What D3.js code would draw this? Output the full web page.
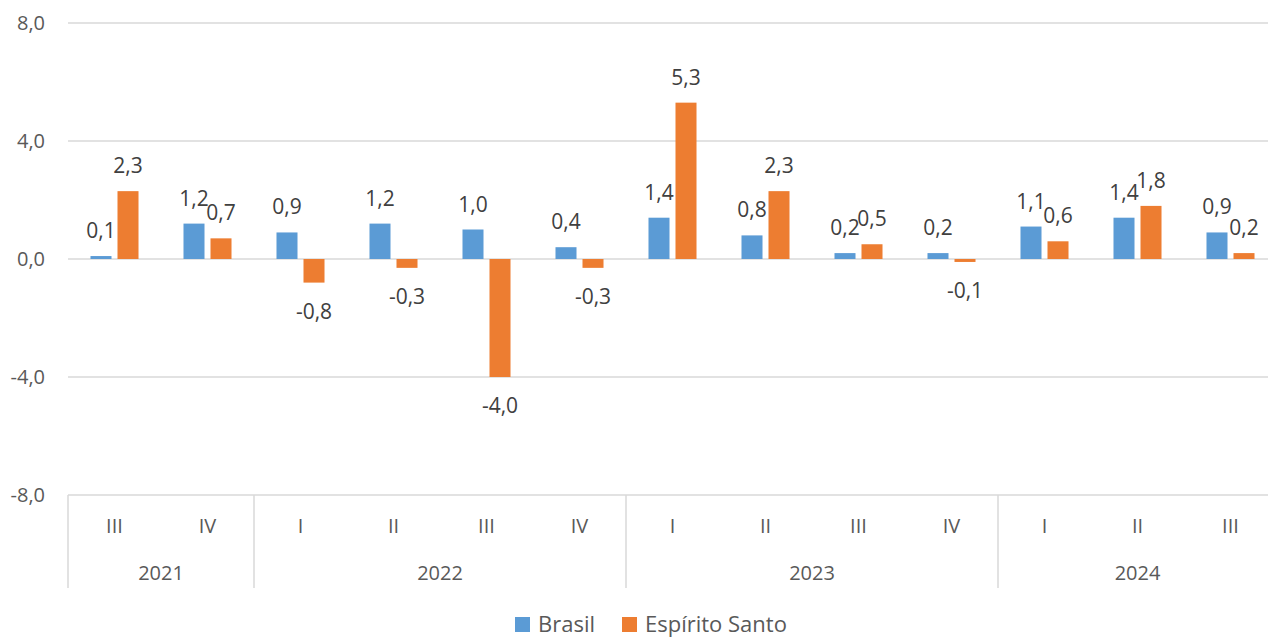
<!DOCTYPE html>
<html>
<head>
<meta charset="utf-8">
<script src="https://cdn.jsdelivr.net/npm/d3@7"></script>
<style>
  body { margin: 0; background: #fff; }
  text { font-family: "Open Sans", sans-serif; }
</style>
</head>
<body>
<div id="chart"></div>
<script>
// quarters and years along the bottom
var quarters = ["III", "IV", "I", "II", "III", "IV", "I", "II", "III", "IV", "I", "II", "III"];
var years = ["2021", "2022", "2023", "2024"];
var yearSpans = [2, 4, 4, 3];

var series = ["Brasil", "Espírito Santo"];
var brasil = [0.1, 1.2, 0.9, 1.2, 1.0, 0.4, 1.4, 0.8, 0.2, 0.2, 1.1, 1.4, 0.9];
var espiritoSanto = [2.3, 0.7, -0.8, -0.3, -4.0, -0.3, 5.3, 2.3, 0.5, -0.1, 0.6, 1.8, 0.2];
var yTicks = [-8, -4, 0, 4, 8];

var colors = ["#5b9bd5", "#ed7d31"];
var W = 1268, H = 637;
// note: "top" is taken by window.top, so plot edges get their own names
var plotLeft = 68, plotRight = 1277, plotTop = 23, plotBottom = 495;

var fmt = function(v) { return d3.format(".1f")(v).replace(".", ",").replace("−", "-"); };

var svg = d3.select("#chart").append("svg")
    .attr("width", W)
    .attr("height", H);

var idx = d3.range(quarters.length);
var x0 = d3.scaleBand().domain(idx).range([plotLeft, plotRight]);
var x1 = d3.scaleBand().domain([0, 1]).range([0, x0.bandwidth()])
    .paddingInner(0.222).paddingOuter(0.833);
var y = d3.scaleLinear().domain([-8, 8]).range([plotBottom, plotTop]);

// gridlines
svg.append("g").selectAll("line")
    .data(yTicks)
    .enter().append("line")
    .attr("x1", plotLeft)
    .attr("x2", 1280)
    .attr("y1", function(d) { return y(d); })
    .attr("y2", function(d) { return y(d); })
    .attr("stroke", "#d9d9d9")
    .attr("stroke-width", 1.5);

// y labels
svg.append("g").selectAll("text")
    .data(yTicks)
    .enter().append("text")
    .attr("x", 45)
    .attr("y", function(d) { return y(d) + 7; })
    .attr("text-anchor", "end")
    .attr("font-size", 20)
    .attr("fill", "#595959")
    .text(function(d) { return fmt(d); });

// bars
var rows = idx.map(function(i) {
    return [brasil[i], espiritoSanto[i]];
});

var group = svg.append("g").selectAll("g")
    .data(rows)
    .enter().append("g")
    .attr("transform", function(d, i) { return "translate(" + x0(i) + ",0)"; });

group.selectAll("rect")
    .data(function(d) { return d; })
    .enter().append("rect")
    .attr("x", function(d, s) { return x1(s); })
    .attr("width", x1.bandwidth())
    .attr("y", function(d) { return y(Math.max(0, d)); })
    .attr("height", function(d) { return Math.abs(y(d) - y(0)); })
    .attr("fill", function(d, s) { return colors[s]; });

group.selectAll("text")
    .data(function(d) { return d; })
    .enter().append("text")
    .attr("x", function(d, s) { return x1(s) + x1.bandwidth() / 2; })
    .attr("y", function(d) { return d >= 0 ? y(d) - 18 : y(d) + 36; })
    .attr("text-anchor", "middle")
    .attr("font-size", 21)
    .attr("fill", "#404040")
    .text(function(d) { return fmt(d); });

// category axis
var axis = svg.append("g");
axis.selectAll("text.q")
    .data(quarters)
    .enter().append("text")
    .attr("class", "q")
    .attr("x", function(d, i) { return x0(i) + x0.bandwidth() / 2; })
    .attr("y", 533)
    .attr("text-anchor", "middle")
    .attr("font-size", 20)
    .attr("fill", "#595959")
    .text(function(d) { return d; });

var starts = [];
var acc = 0;
yearSpans.forEach(function(n) { starts.push(acc); acc += n; });
starts.push(acc);

axis.selectAll("line")
    .data(starts)
    .enter().append("line")
    .attr("x1", function(d) { return d < quarters.length ? x0(d) : plotRight; })
    .attr("x2", function(d) { return d < quarters.length ? x0(d) : plotRight; })
    .attr("y1", plotBottom)
    .attr("y2", 588)
    .attr("stroke", "#d9d9d9")
    .attr("stroke-width", 1.5);

axis.selectAll("text.y")
    .data(years)
    .enter().append("text")
    .attr("class", "y")
    .attr("x", function(d, i) {
        var a = x0(starts[i]);
        var b = starts[i + 1] < quarters.length ? x0(starts[i + 1]) : plotRight;
        return (a + b) / 2;
    })
    .attr("y", 580)
    .attr("text-anchor", "middle")
    .attr("font-size", 20)
    .attr("fill", "#595959")
    .text(function(d) { return d; });

// legend
var legendX = [515, 622];
var legend = svg.append("g").selectAll("g")
    .data(series)
    .enter().append("g")
    .attr("transform", function(d, i) { return "translate(" + legendX[i] + ",617)"; });

legend.append("rect")
    .attr("width", 15)
    .attr("height", 15)
    .attr("fill", function(d, i) { return colors[i]; });

legend.append("text")
    .attr("x", 23)
    .attr("y", 15)
    .attr("font-size", 22)
    .attr("fill", "#595959")
    .text(function(d) { return d; });
</script>
</body>
</html>
